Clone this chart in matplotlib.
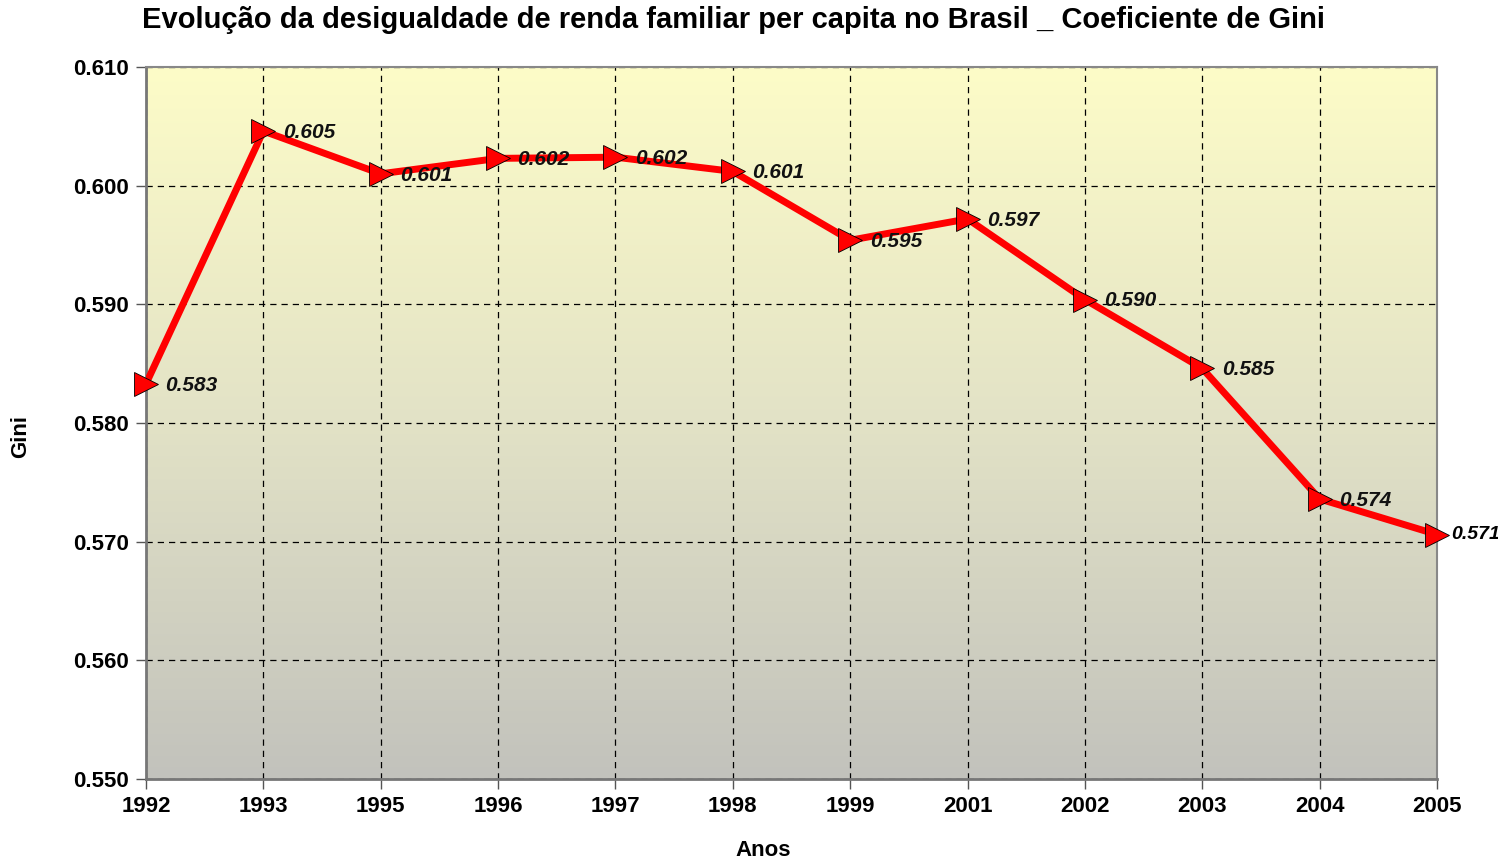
import matplotlib
matplotlib.use("Agg")
import matplotlib.pyplot as plt
import numpy as np
from matplotlib.colors import LinearSegmentedColormap

plt.rcParams['font.family'] = ['Liberation Sans', 'DejaVu Sans']

years = ["1992", "1993", "1995", "1996", "1997", "1998", "1999", "2001", "2002", "2003", "2004", "2005"]
gini = [0.5833, 0.6046, 0.6010, 0.6023, 0.6024, 0.6012, 0.5954, 0.5972, 0.5904, 0.5846, 0.5736, 0.5706]
y_ticks = [0.550, 0.560, 0.570, 0.580, 0.590, 0.600, 0.610]

title = "Evolução da desigualdade de renda familiar per capita no Brasil _ Coeficiente de Gini"

fig = plt.figure(figsize=(14.98, 8.59), dpi=100)
ax = fig.add_axes([146/1498, 1-779/859, (1437-146)/1498, (779-67)/859])

x = np.arange(len(years))
ax.set_xlim(0, len(years)-1)
ax.set_ylim(0.550, 0.610)

# gradient background
cmap = LinearSegmentedColormap.from_list("bg", ["#c2c2bc", "#e2e2c6", "#fdfcc8"])
grad = np.linspace(0, 1, 256).reshape(-1, 1)
ax.imshow(grad, aspect='auto', cmap=cmap, origin='lower',
          extent=[0, len(years)-1, 0.550, 0.610], zorder=0)

ax.grid(True, color='black', linestyle=(0, (5, 4)), linewidth=0.9, zorder=1)

ax.plot(x, gini, color='#ff0000', linewidth=5, zorder=3, solid_capstyle='round')
ax.plot(x, gini, linestyle='none', marker='>', markersize=17, markerfacecolor='#ff0000',
        markeredgecolor='black', markeredgewidth=0.6, zorder=4, clip_on=False)

for i, v in enumerate(gini):
    if i == len(gini) - 1:
        ax.annotate(f"{v:.3f}", (x[i], v), xytext=(10, 0), textcoords='offset points',
                    fontsize=14, fontstyle='italic', fontweight='bold', va='center', ha='left',
                    annotation_clip=False, zorder=5)
    else:
        ax.annotate(f"{v:.3f}", (x[i], v), xytext=(14, -1), textcoords='offset points',
                    fontsize=15, fontstyle='italic', fontweight='bold', va='center', ha='left',
                    color='#111111', zorder=5)

ax.set_xticks(x)
ax.set_xticklabels(years, fontsize=16, fontweight='bold')
ax.set_yticks(y_ticks)
ax.set_yticklabels([f"{t:.3f}" for t in y_ticks], fontsize=16, fontweight='bold')
ax.tick_params(axis='both', length=7, width=1, color='#555555', pad=5)

for s in ['left', 'bottom']:
    ax.spines[s].set_color('#777777')
    ax.spines[s].set_linewidth(2)
for s in ['top', 'right']:
    ax.spines[s].set_color('#888888')
    ax.spines[s].set_linewidth(1.5)

ax.set_xlabel("Anos", fontsize=16, fontweight='bold')
ax.xaxis.set_label_coords((763-146)/1291, (779-840)/712)
ax.set_ylabel("Gini", fontsize=16, fontweight='bold')
ax.yaxis.set_label_coords((31-146)/1291, (779-437)/712)

fig.text(733/1498, 1-20/859, title, fontsize=21, fontweight='bold', ha='center', va='center')

fig.savefig("out.png", dpi=100)
